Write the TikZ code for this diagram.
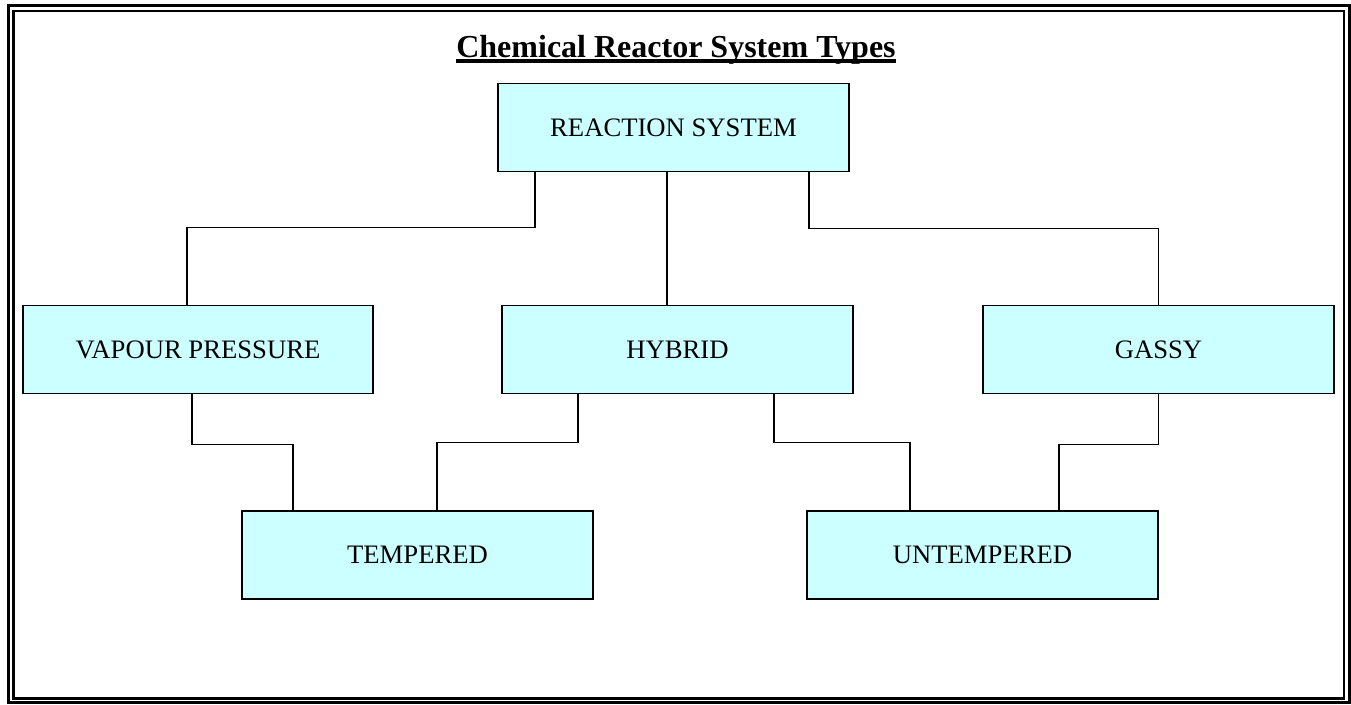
\documentclass[tikz,border=0pt]{standalone}
\usepackage{fontspec}
\setmainfont{Liberation Serif}
\usepackage{tikz}
\usetikzlibrary{calc,positioning}
\definecolor{ink}{HTML}{000000}
\definecolor{boxcyan}{HTML}{CCFFFF}
\definecolor{paper}{HTML}{FFFFFF}
\tikzset{
  typebox/.style={draw=ink,fill=boxcyan,line width=1.4pt,align=center,inner sep=4pt,
    minimum width=263pt,minimum height=66pt,font=\fontsize{20}{24}\selectfont},
  linkline/.style={draw=ink,line width=1.3pt},
  titletext/.style={inner sep=0pt,font=\fontsize{24}{28}\selectfont\bfseries}
}
\begin{document}
\begin{tikzpicture}[x=0.75pt,y=-0.75pt]
  \useasboundingbox[fill=paper] (0,0) rectangle (1351,704);
  \draw[ink,line width=2pt] (8.5,5.5) rectangle (1349.5,702.5);
  \draw[ink,line width=1.6pt] (13.5,11) rectangle (1344,698.5);

  \node[titletext,anchor=base] (title) at (676,57) {Chemical Reactor System Types};
  \draw[ink,line width=2.6pt] ($(title.base west)+(0,4)$) -- ($(title.base east)+(0,4)$);

  \node[typebox] (rs) at (673.5,127.5) {REACTION SYSTEM};
  \node[typebox] (vp) at (198,349.5) {VAPOUR PRESSURE};
  \node[typebox] (hy) at (677.5,349.5) {HYBRID};
  \node[typebox] (gs) at (1158.5,349.5) {GASSY};
  \node[typebox] (tp) at (417.5,555) {TEMPERED};
  \node[typebox] (ut) at (982.5,555) {UNTEMPERED};

  \draw[linkline] ($(rs.south west)+(38,0)$) -- ++(0,55) -| ($(vp.north)+(-11,0)$);
  \draw[linkline] ($(rs.south)+(-6.5,0)$) coordinate (rsmid) -- (rsmid |- hy.north);
  \draw[linkline] ($(rs.south east)+(-41,0)$) -- ++(0,56) -| (gs.north);
  \draw[linkline] ($(vp.south)+(-6,0)$) -- ++(0,50) -| ($(tp.north west)+(52,0)$);
  \draw[linkline] ($(hy.south west)+(77,0)$) -- ++(0,48) -| ($(tp.north)+(19.5,0)$);
  \draw[linkline] ($(hy.south east)+(-80,0)$) -- ++(0,48) -| ($(ut.north west)+(104,0)$);
  \draw[linkline] (gs.south) -- ++(0,50) -| ($(ut.north east)+(-100,0)$);
\end{tikzpicture}
\end{document}
